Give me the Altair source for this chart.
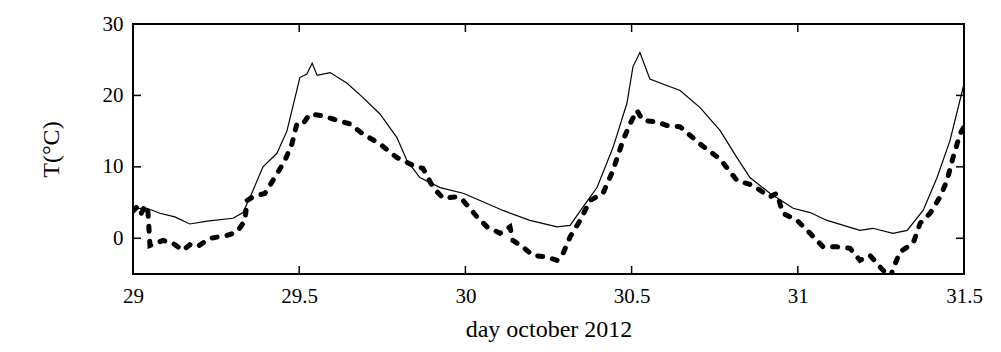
import altair as alt
import pandas as pd

# Solid (thin) temperature series
solid_day = [29.000, 29.021, 29.042, 29.081, 29.126, 29.171, 29.223, 29.301, 29.331, 29.361,
             29.391, 29.433, 29.463, 29.502, 29.523, 29.539, 29.554, 29.593, 29.644, 29.692,
             29.743, 29.794, 29.824, 29.863, 29.924, 29.993, 30.044, 30.113, 30.194, 30.276,
             30.315, 30.354, 30.396, 30.444, 30.486, 30.504, 30.525, 30.555, 30.594, 30.646,
             30.706, 30.766, 30.817, 30.856, 30.916, 30.986, 31.037, 31.088, 31.187, 31.226,
             31.286, 31.329, 31.377, 31.419, 31.458, 31.500]
solid_T = [3.9, 4.2, 4.2, 3.5, 3.0, 2.0, 2.4, 2.8, 3.6, 6.7,
           10.0, 11.9, 15.0, 22.5, 23.0, 24.5, 22.8, 23.2, 21.7, 19.7,
           17.4, 14.1, 10.9, 8.5, 7.1, 6.3, 5.3, 3.9, 2.5, 1.6,
           1.8, 4.4, 7.1, 12.7, 18.9, 24.0, 26.0, 22.3, 21.6, 20.7,
           18.3, 15.1, 11.3, 8.5, 6.3, 4.2, 3.6, 2.5, 1.1, 1.4,
           0.7, 1.1, 3.9, 8.5, 13.7, 21.6]

# Dashed (thick) temperature series
dash_day = [29.000, 29.012, 29.024, 29.036, 29.045, 29.051, 29.090, 29.120, 29.150, 29.171,
            29.193, 29.232, 29.283, 29.313, 29.337, 29.343, 29.361, 29.397, 29.433, 29.457,
            29.478, 29.493, 29.511, 29.532, 29.563, 29.602, 29.653, 29.692, 29.743, 29.794,
            29.842, 29.872, 29.903, 29.933, 29.975, 29.993, 30.035, 30.065, 30.104, 30.134,
            30.143, 30.173, 30.203, 30.245, 30.276, 30.294, 30.315, 30.345, 30.375, 30.414,
            30.444, 30.474, 30.495, 30.516, 30.534, 30.576, 30.606, 30.646, 30.706, 30.766,
            30.817, 30.865, 30.916, 30.937, 30.955, 30.998, 31.037, 31.076, 31.118, 31.157,
            31.187, 31.217, 31.247, 31.277, 31.307, 31.347, 31.368, 31.398, 31.428, 31.449,
            31.467, 31.488, 31.500]
dash_T = [3.8, 4.4, 3.4, 4.6, 3.7, -1.0, -0.3, -0.7, -1.7, -0.9,
          -1.2, 0.0, 0.4, 0.9, 2.5, 5.3, 5.8, 6.3, 9.0, 10.9,
          13.2, 16.0, 16.0, 17.4, 17.2, 16.7, 16.0, 14.6, 13.2, 11.3,
          10.2, 9.8, 7.1, 5.6, 5.8, 5.3, 3.0, 1.6, 0.7, 1.6,
          -0.3, -1.2, -2.4, -2.6, -3.1, -2.1, 0.2, 2.5, 5.3, 6.3,
          9.5, 13.7, 16.0, 17.9, 16.5, 16.3, 15.8, 15.6, 13.2, 11.1,
          8.1, 7.4, 5.8, 6.3, 3.5, 2.5, 0.7, -1.2, -1.2, -1.4,
          -3.1, -2.4, -4.0, -5.5, -1.9, -0.7, 2.1, 3.5, 5.8, 8.1,
          11.3, 14.6, 15.6]

x_ticks = [29.5, 30, 30.5, 31]
y_ticks = [0, 10, 20]
x_labels = [29, 29.5, 30, 30.5, 31, 31.5]
y_labels = [0, 10, 20, 30]

W, H = 831, 250

solid_df = pd.DataFrame({"day": solid_day, "T": solid_T})
dash_df = pd.DataFrame({"day": dash_day, "T": dash_T})
xt_df = pd.DataFrame({"day": x_ticks})
yt_df = pd.DataFrame({"T": y_ticks})

x_scale = alt.Scale(domain=[29, 31.5], nice=False, zero=False)
y_scale = alt.Scale(domain=[-5, 30], nice=False, zero=False)

x_axis = alt.Axis(values=x_labels, format=".4~g", title="day october 2012",
                  labelFlush=False, labelPadding=11, titleY=62,
                  titleBaseline="alphabetic", titleX=W / 2, grid=False,
                  domain=False, ticks=False)
y_axis = alt.Axis(values=y_labels, format=".4~g", title="T(°C)",
                  labelFlush=False, labelPadding=10, titleX=-82, titleY=H / 2,
                  titleBaseline="middle", grid=False, domain=False, ticks=False)

X = alt.X("day:Q", scale=x_scale, axis=x_axis)
Y = alt.Y("T:Q", scale=y_scale, axis=y_axis)

solid = alt.Chart(solid_df).mark_line(color="black", strokeWidth=1.2, clip=True).encode(
    x=X, y=Y)

dashed = alt.Chart(dash_df).mark_line(color="black", strokeWidth=5, strokeDash=[5, 10],
                                      strokeCap="round", clip=True).encode(x=X, y=Y)

tick_bottom = alt.Chart(xt_df).mark_rule(color="black", strokeWidth=1.5).encode(
    x=X, y=alt.value(H), y2=alt.value(H - 8))
tick_top = alt.Chart(xt_df).mark_rule(color="black", strokeWidth=1.5).encode(
    x=X, y=alt.value(0), y2=alt.value(8))
tick_left = alt.Chart(yt_df).mark_rule(color="black", strokeWidth=1.5).encode(
    y=Y, x=alt.value(0), x2=alt.value(8))
tick_right = alt.Chart(yt_df).mark_rule(color="black", strokeWidth=1.5).encode(
    y=Y, x=alt.value(W), x2=alt.value(W - 8))

chart = alt.layer(solid, dashed, tick_bottom, tick_top, tick_left, tick_right).properties(
    width=W, height=H,
    background="white",
    autosize=alt.AutoSizeParams(type="none"),
    padding={"left": 133, "top": 24, "right": 37, "bottom": 78},
).configure_view(
    stroke="black", strokeWidth=2
).configure_axis(
    domain=False, ticks=False, grid=False,
    labelFont="Liberation Serif", labelFontSize=21, labelColor="black",
    titleFont="Liberation Serif", titleFontSize=24, titleColor="black",
    titleFontWeight="normal"
)

chart.save("out.html", embed_options={"renderer": "svg", "actions": False})
